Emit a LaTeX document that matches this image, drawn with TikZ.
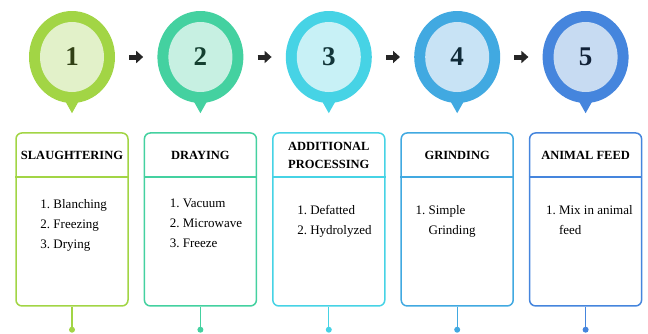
\documentclass[tikz,border=0pt]{standalone}
\usepackage{fontspec}
\setmainfont{Liberation Serif}
\usetikzlibrary{arrows.meta,positioning,shapes.geometric,calc}
\definecolor{lime}{HTML}{A2D545}
\definecolor{limeLite}{HTML}{E2F1C9}
\definecolor{jade}{HTML}{44D1A0}
\definecolor{jadeLite}{HTML}{C7F0E2}
\definecolor{aqua}{HTML}{46D3E5}
\definecolor{aquaLite}{HTML}{C8F1F6}
\definecolor{sky}{HTML}{41A9E1}
\definecolor{skyLite}{HTML}{C8E3F5}
\definecolor{azure}{HTML}{4585DD}
\definecolor{azureLite}{HTML}{C7DBF2}
\tikzset{
  ring/.style={ellipse, minimum width=86pt, minimum height=92pt, inner sep=0pt},
  core/.style={ellipse, minimum width=64pt, minimum height=70pt, inner sep=0pt,
               font=\fontsize{27}{27}\selectfont\bfseries},
  panel/.style={rectangle, rounded corners=6pt, line width=1.5pt, fill=white,
                minimum width=112pt, minimum height=173pt, anchor=north},
  head/.style={font=\fontsize{12.5}{18}\selectfont\bfseries, align=center, inner sep=0pt},
  items/.style={font=\fontsize{13}{20}\selectfont, align=left, anchor=north west, inner sep=0pt},
  stem/.style={line width=1.2pt},
  dot/.style={circle, minimum size=6pt, inner sep=0pt},
  go/.style={-{Triangle[length=7pt,width=12pt]}, line width=5pt, draw=black!85}
}
\begin{document}
\begin{tikzpicture}[x=1pt,y=-1pt]
  \useasboundingbox (0,0) rectangle (648,333);

  % markers
  \node[ring, fill=lime] (o1) at (72,57) {};
  \node[ring, fill=jade, right=42pt of o1] (o2) {};
  \node[ring, fill=aqua, right=42pt of o2] (o3) {};
  \node[ring, fill=sky, right=42pt of o3] (o4) {};
  \node[ring, fill=azure, right=42pt of o4] (o5) {};
  \foreach \o/\c in {o1/lime,o2/jade,o3/aqua,o4/sky,o5/azure}
    \fill[\c] ([xshift=-9pt,yshift=6pt]\o.south) -- ([yshift=-10pt]\o.south)
              -- ([xshift=9pt,yshift=6pt]\o.south) -- cycle;

  \node[core, fill=limeLite, text=lime!30!black] (n1) at (o1) {1};
  \node[core, fill=jadeLite, text=jade!30!black] (n2) at (o2) {2};
  \node[core, fill=aquaLite, text=aqua!25!black] (n3) at (o3) {3};
  \node[core, fill=skyLite, text=sky!25!black] (n4) at (o4) {4};
  \node[core, fill=azureLite, text=azure!25!black] (n5) at (o5) {5};

  \draw[go] ([xshift=14pt]o1.east) -- ([xshift=-14pt]o2.west);
  \draw[go] ([xshift=14pt]o2.east) -- ([xshift=-14pt]o3.west);
  \draw[go] ([xshift=14pt]o3.east) -- ([xshift=-14pt]o4.west);
  \draw[go] ([xshift=14pt]o4.east) -- ([xshift=-14pt]o5.west);

  % panels
  \node[panel, draw=lime, below=29pt of o1] (b1) {};
  \node[panel, draw=jade, below=29pt of o2] (b2) {};
  \node[panel, draw=aqua, below=29pt of o3] (b3) {};
  \node[panel, draw=sky, below=29pt of o4] (b4) {};
  \node[panel, draw=azure, below=29pt of o5] (b5) {};
  \foreach \b/\c in {b1/lime,b2/jade,b3/aqua,b4/sky,b5/azure}
    \draw[\c, line width=1.5pt] ([yshift=-45pt]\b.north west) -- ([yshift=-45pt]\b.north east);

  \node[head] (h1) at ([yshift=-23pt]b1.north) {SLAUGHTERING};
  \node[head] (h2) at ([yshift=-23pt]b2.north) {DRAYING};
  \node[head] (h3) at ([yshift=-23pt]b3.north) {ADDITIONAL\\PROCESSING};
  \node[head] (h4) at ([yshift=-23pt]b4.north) {GRINDING};
  \node[head] (h5) at ([yshift=-23pt]b5.north) {ANIMAL FEED};

  \node[items] (l1) at ([xshift=25pt,yshift=-67pt]b1.north west)
    {1.~Blanching\\2.~Freezing\\3.~Drying};
  \node[items] (l2) at ([xshift=26pt,yshift=-67pt]b2.north west)
    {1.~Vacuum\\2.~Microwave\\3.~Freeze};
  \node[items] (l3) at ([xshift=25pt,yshift=-73pt]b3.north west)
    {1.~Defatted\\2.~Hydrolyzed};
  \node[items] (l4) at ([xshift=15pt,yshift=-73pt]b4.north west)
    {1.~Simple\\\phantom{1.~}Grinding};
  \node[items] (l5) at ([xshift=17pt,yshift=-73pt]b5.north west)
    {1.~Mix in animal\\\phantom{1.~}feed};

  % stems
  \foreach \i/\c in {1/lime,2/jade,3/aqua,4/sky,5/azure}{
    \node[dot, fill=\c] (d\i) at ([yshift=-23pt]b\i.south) {};
    \draw[stem, draw=\c] (b\i) -- (d\i);
  }
\end{tikzpicture}
\end{document}
